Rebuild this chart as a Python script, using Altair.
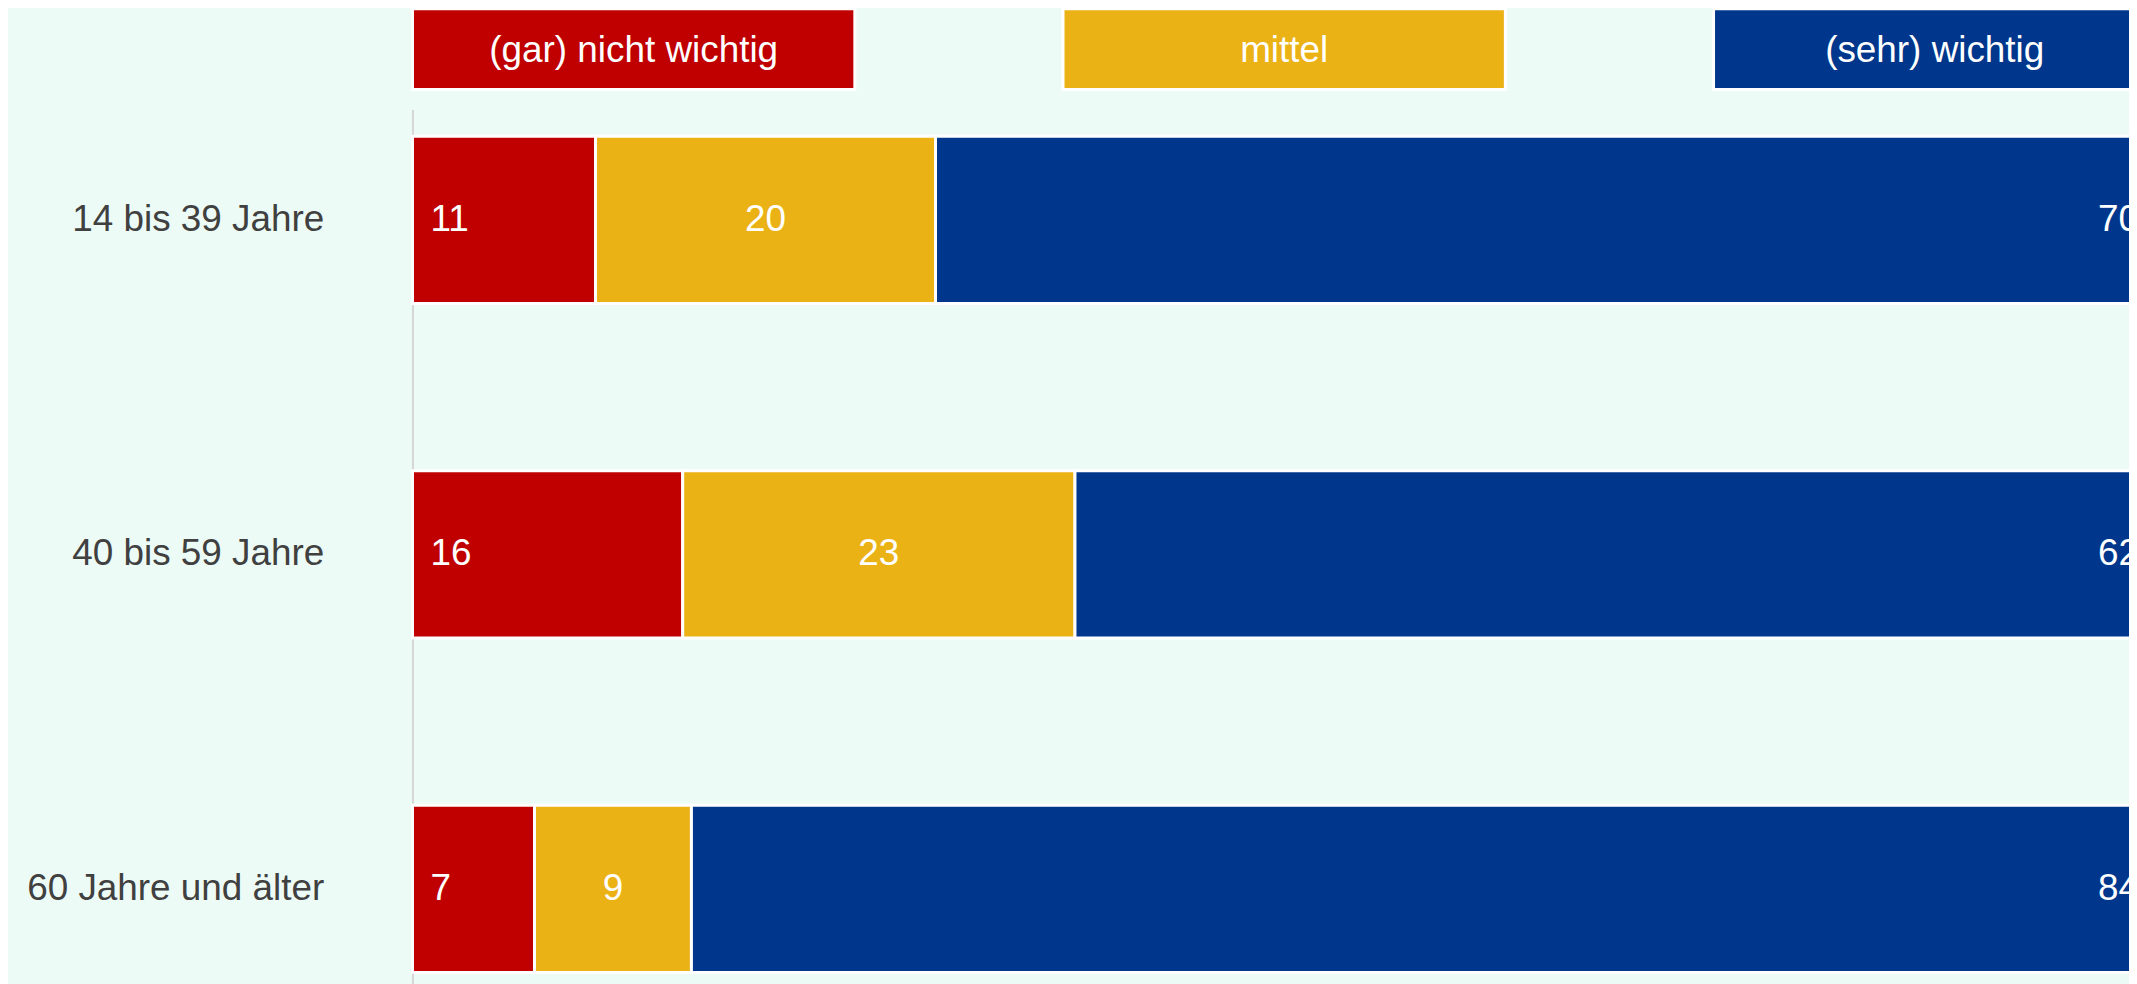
import altair as alt
import pandas as pd

groups = ["14 bis 39 Jahre", "40 bis 59 Jahre", "60 Jahre und älter"]
categories = ["(gar) nicht wichtig", "mittel", "(sehr) wichtig"]
colors = ["#C00000", "#EBB215", "#00378C"]

# shares measured from bar lengths (percent of 100)
share_nicht = [10.5, 15.5, 7.0]
share_mittel = [19.5, 22.5, 9.0]
share_sehr = [70.0, 62.0, 84.0]
# printed labels
label_nicht = [11, 16, 7]
label_mittel = [20, 23, 9]
label_sehr = [70, 62, 84]

rows = []
for i, g in enumerate(groups):
    shares = [share_nicht[i], share_mittel[i], share_sehr[i]]
    labels = [label_nicht[i], label_mittel[i], label_sehr[i]]
    for j, c in enumerate(categories):
        rows.append({"group": g, "cat": c, "order": j, "share": shares[j], "label": str(labels[j])})
df = pd.DataFrame(rows)
legend_df = pd.DataFrame({"cat": categories})

FONT = "Liberation Sans"
FS = 37
LEFT = 406
FULL_W = 1750  # full length of the 100% bar; it runs past the right edge of the page
VIS_W = 2129 - LEFT   # visible part of the plot area

color = alt.Color("cat:N", scale=alt.Scale(domain=categories, range=colors), legend=None)
xscale = alt.Scale(domain=[0, 100], range=[0, FULL_W], nice=False, zero=True)
y = alt.Y(
    "group:N",
    sort=groups,
    title=None,
    scale=alt.Scale(paddingInner=0.50, paddingOuter=0.08),
    axis=alt.Axis(
        ticks=False,
        labelFont=FONT,
        labelFontSize=FS,
        labelColor="#404040",
        labelPadding=89,
        labelLimit=0,
        domainColor="#d6d6d6",
        domainWidth=2,
        grid=False,
    ),
)

base = alt.Chart(df).transform_stack(
    stack="share",
    groupby=["group"],
    as_=["start", "end"],
    sort=[alt.SortField("order", order="ascending")],
).transform_calculate(mid="(datum.start + datum.end) / 2")

bars = base.mark_bar(stroke="white", strokeWidth=3).encode(
    x=alt.X("start:Q", scale=xscale, axis=None),
    x2="end:Q",
    y=y,
    color=color,
)

txt_kw = dict(color="white", font=FONT, fontSize=FS, baseline="middle")
t_left = base.transform_filter("datum.order == 0").mark_text(align="left", dx=18, **txt_kw).encode(
    x=alt.X("start:Q", scale=xscale, axis=None), y=y, text="label:N"
)
t_mid = base.transform_filter("datum.order == 1").mark_text(align="center", **txt_kw).encode(
    x=alt.X("mid:Q", scale=xscale, axis=None), y=y, text="label:N"
)
t_right = base.transform_filter("datum.order == 2").mark_text(align="right", dx=-17, **txt_kw).encode(
    x=alt.X("end:Q", scale=xscale, axis=None), y=y, text="label:N"
)
main = alt.layer(bars, t_left, t_mid, t_right)

lx = alt.X(
    "cat:N",
    sort=categories,
    scale=alt.Scale(range=[0, FULL_W], paddingInner=0.32, paddingOuter=0),
    axis=None,
)
leg_rect = alt.Chart(legend_df).mark_rect(stroke="white", strokeWidth=3).encode(
    x=lx, y=alt.value(-101), y2=alt.value(-20), color=color
)
leg_text = alt.Chart(legend_df).mark_text(**txt_kw).encode(
    x=lx, y=alt.value(-59), text="cat:N"
)
legend = alt.layer(leg_rect, leg_text)

chart = (
    alt.layer(main, legend)
    .resolve_scale(x="independent")
    .properties(
        width=VIS_W,
        height=893,
        autosize=alt.AutoSizeParams(type="none"),
        padding={"left": LEFT, "top": 100, "right": 0, "bottom": 0},
        background="#EDFBF6",
    )
    .configure_view(stroke=None)
)

chart.save("out.html", embed_options={"renderer": "svg", "actions": False})
